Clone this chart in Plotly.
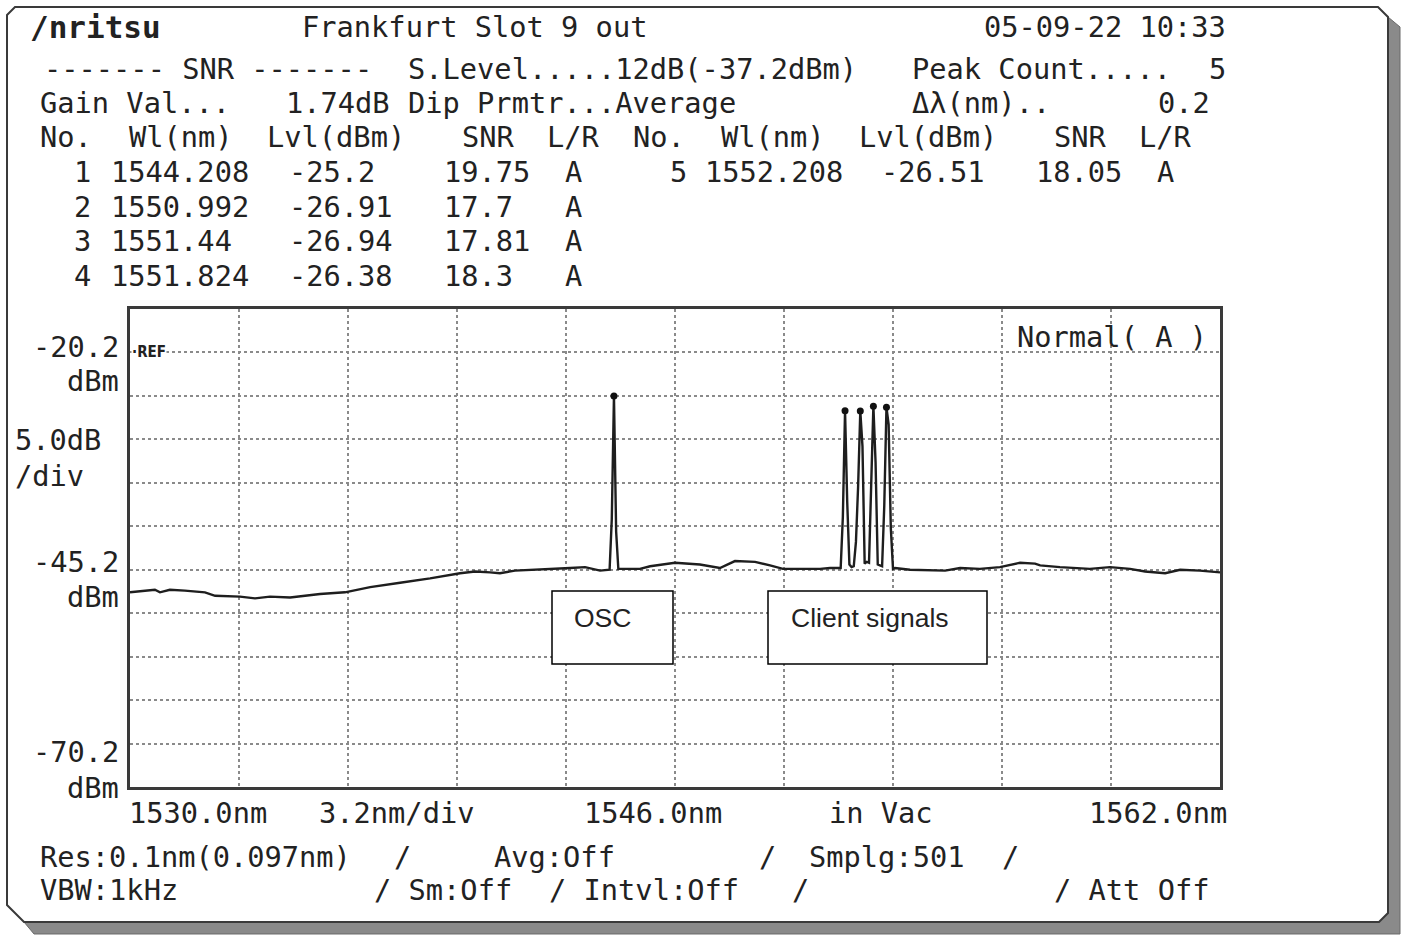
import plotly.graph_objects as go

# ---------------- data ----------------
trace_wl = [1530.00, 1530.73, 1530.88, 1531.17, 1531.61, 1532.20, 1532.50, 1533.23, 1533.67, 1534.11,
            1534.70, 1535.58, 1536.31, 1537.05, 1537.93, 1538.81, 1539.69, 1540.13, 1540.57, 1540.86,
            1541.30, 1542.04, 1542.92, 1543.36, 1543.80, 1544.080, 1544.144, 1544.208, 1544.272, 1544.336,
            1544.53, 1544.97, 1545.27, 1546.00, 1546.73, 1547.32, 1547.76, 1548.35, 1548.79, 1549.17,
            1549.67, 1550.26, 1550.55, 1550.864, 1550.928, 1550.992, 1551.056, 1551.120, 1551.184, 1551.248,
            1551.312, 1551.376, 1551.440, 1551.504, 1551.568, 1551.632, 1551.696, 1551.760, 1551.824, 1551.888,
            1551.952, 1552.016, 1552.080, 1552.144, 1552.208, 1552.272, 1552.336, 1552.400, 1552.46, 1552.90,
            1553.93, 1554.37, 1554.95, 1555.54, 1556.13, 1556.57, 1556.72, 1557.30, 1558.18, 1558.77,
            1559.36, 1559.80, 1560.39, 1560.83, 1561.41, 1562.00]
trace_lvl = [-47.8, -47.5, -47.8, -47.5, -47.6, -47.8, -48.2, -48.3, -48.5, -48.3,
             -48.4, -48.0, -47.8, -47.2, -46.7, -46.2, -45.6, -45.4, -45.5, -45.6,
             -45.3, -45.2, -45.0, -44.9, -45.3, -45.2, -39.4, -25.2, -40.8, -45.1,
             -45.1, -45.1, -44.8, -44.4, -44.6, -45.0, -44.2, -44.3, -44.7, -45.1,
             -45.1, -45.1, -45.0, -45.0, -39.1, -26.91, -37.4, -44.6, -44.9, -44.8,
             -42.0, -35.6, -26.94, -31.0, -44.5, -44.3, -44.4, -34.3, -26.38, -32.8,
             -44.6, -44.7, -44.8, -37.8, -26.51, -28.5, -40.4, -45.1, -45.0, -45.2,
             -45.3, -45.0, -45.1, -44.9, -44.4, -44.5, -44.7, -44.9, -45.1, -44.9,
             -45.1, -45.4, -45.6, -45.2, -45.3, -45.5]

peak_no = [1, 2, 3, 4, 5]
peak_wl = [1544.208, 1550.992, 1551.44, 1551.824, 1552.208]
peak_lvl = [-25.2, -26.91, -26.94, -26.38, -26.51]
peak_snr = [19.75, 17.7, 17.81, 18.3, 18.05]
peak_lr = ["A", "A", "A", "A", "A"]

x_start, x_stop, x_div = 1530.0, 1562.0, 3.2
y_ref, y_div = -20.2, 5.0
y_bottom, y_top = -70.2, -15.2

# ---------------- geometry helpers ----------------
W, H = 1404, 936
L, R, T, B = 130, 1220, 309, 787


def px(x):
    return (x - L) / (R - L)


def py(y):
    return (B - y) / (B - T)


MONO = "DejaVu Sans Mono"
FS = 28.7
TXT = "#222222"

fig = go.Figure()
fig.add_trace(go.Scatter(x=trace_wl, y=trace_lvl, mode="lines",
                         line=dict(color="#1e1e1e", width=2.4), hoverinfo="skip"))
fig.add_trace(go.Scatter(x=peak_wl, y=peak_lvl, mode="markers",
                         marker=dict(color="#111111", size=7), hoverinfo="skip"))

annotations = []


def txt(s, x, y, anchor="left", size=FS, family=MONO, bg=None):
    a = dict(text=s, x=px(x), y=py(y), xref="paper", yref="paper", showarrow=False,
             xanchor=anchor, yanchor="middle", font=dict(family=family, size=size, color=TXT))
    if bg:
        a["bgcolor"] = bg
        a["borderpad"] = 0
    annotations.append(a)


# header
txt("<b>/nritsu</b>", 28, 27, size=31)
txt("Frankfurt Slot 9 out", 300, 27)
txt("05-09-22 10:33", 982, 27)
txt("------- SNR -------", 42, 69)
txt("S.Level.....12dB(-37.2dBm)", 406, 69)
txt("Peak Count.....", 910, 69)
txt(str(len(peak_wl)), 1228, 69, anchor="right")
txt("Gain Val...", 38, 103)
txt("1.74dB", 284, 103)
txt("Dip Prmtr...Average", 406, 103)
txt("Δλ(nm)..", 910, 103)
txt("0.2", 1212, 103, anchor="right")
for s, x in [("No.", 38), ("Wl(nm)", 127), ("Lvl(dBm)", 265), ("SNR", 460), ("L/R", 545),
             ("No.", 631), ("Wl(nm)", 719), ("Lvl(dBm)", 857), ("SNR", 1052), ("L/R", 1137)]:
    txt(s, x, 137)

row_y = [172, 207, 241, 276]
for i in range(len(peak_no)):
    if i < 4:
        y = row_y[i]
        cols = (93, 109, 287, 442, 563)
    else:
        y = row_y[i - 4]
        cols = (689, 703, 879, 1034, 1155)
    txt(str(peak_no[i]), cols[0], y, anchor="right")
    txt(str(peak_wl[i]), cols[1], y)
    txt(str(peak_lvl[i]), cols[2], y)
    txt(str(peak_snr[i]), cols[3], y)
    txt(peak_lr[i], cols[4], y)

# y-axis labels
txt(f"{y_ref:.1f}", 121, 347, anchor="right")
txt("dBm", 121, 381, anchor="right")
txt(f"{y_div:.1f}dB", 13, 440)
txt("/div", 13, 476)
txt(f"{y_ref - 5 * y_div:.1f}", 121, 562, anchor="right")
txt("dBm", 121, 597, anchor="right")
txt(f"{y_bottom:.1f}", 121, 752, anchor="right")
txt("dBm", 121, 788, anchor="right")
txt("<b>·REF</b>", 131, 352, size=15, family="DejaVu Sans Condensed", bg="white")
txt("Normal( A )", 1015, 337)

# x-axis labels
txt(f"{x_start:.1f}nm", 127, 813)
txt(f"{x_div:.1f}nm/div", 317, 813)
txt(f"{(x_start + x_stop) / 2:.1f}nm", 582, 813)
txt("in Vac", 827, 813)
txt(f"{x_stop:.1f}nm", 1229, 813, anchor="right")

# footer
txt("Res:0.1nm(0.097nm)", 38, 857)
txt("/", 392, 857)
txt("Avg:Off", 492, 857)
txt("/", 757, 857)
txt("Smplg:501", 807, 857)
txt("/", 1000, 857)
txt("VBW:1kHz", 38, 890)
txt("/ Sm:Off", 372, 890)
txt("/ Intvl:Off", 547, 890)
txt("/", 790, 890)
txt("/ Att Off", 1052, 890)

# callout boxes
txt("OSC", 572, 618, size=26.5, family="Liberation Sans")
txt("Client signals", 789, 618, size=26.5, family="Liberation Sans")


def path(points):
    return "M " + " L ".join(f"{px(x):.5f},{py(y):.5f}" for x, y in points) + " Z"


frame = [(7, 15), (15, 7), (1378, 7), (1388, 17), (1388, 913), (1379, 922), (24, 922), (7, 905)]
shadow = [(1388, 17), (1400, 27), (1400, 934), (34, 934), (24, 922), (1379, 922), (1388, 913)]

shapes = [
    dict(type="path", path=path(shadow), xref="paper", yref="paper", layer="below",
         fillcolor="#8a8a8a", line=dict(color="#6a6a6a", width=1)),
    dict(type="path", path=path(frame), xref="paper", yref="paper", layer="below",
         fillcolor="white", line=dict(color="#3a3a3a", width=2)),
    dict(type="rect", xref="paper", yref="paper", x0=px(552), x1=px(673), y0=py(664), y1=py(591),
         fillcolor="white", line=dict(color="black", width=1.5), layer="above"),
    dict(type="rect", xref="paper", yref="paper", x0=px(768), x1=px(987), y0=py(664), y1=py(591),
         fillcolor="white", line=dict(color="black", width=1.5), layer="above"),
]

axis_common = dict(showgrid=True, gridcolor="#8a8a8a", griddash="dot", gridwidth=1.5,
                   showticklabels=False, ticks="", zeroline=False, showline=True,
                   linecolor="#3a3a3a", linewidth=2.5, mirror=True, fixedrange=True)

fig.update_layout(
    width=W, height=H,
    margin=dict(l=L, r=W - R, t=T, b=H - B, pad=0),
    paper_bgcolor="white", plot_bgcolor="rgba(0,0,0,0)",
    showlegend=False,
    xaxis=dict(range=[x_start, x_stop], tick0=x_start, dtick=x_div, **axis_common),
    yaxis=dict(range=[y_bottom, y_top], tick0=y_bottom, dtick=y_div, **axis_common),
    annotations=annotations,
    shapes=shapes,
)

fig.write_html("out.html", config={"displayModeBar": False},
               post_script="document.body.style.margin='0';document.body.style.overflow='hidden';")
